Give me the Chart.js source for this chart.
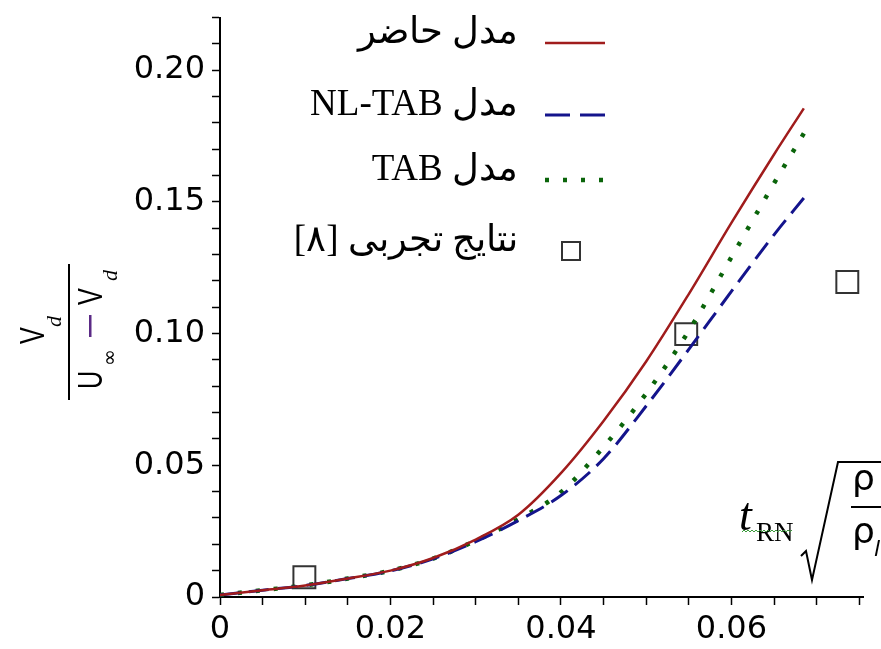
<!DOCTYPE html>
<html>
<head>
<meta charset="utf-8">
<script src="https://cdn.jsdelivr.net/npm/chart.js@4.4.1/dist/chart.umd.min.js"></script>
<style>
  html, body { margin: 0; padding: 0; background: #fff; }
  #wrap { width: 881px; height: 649px; }
</style>
</head>
<body>
<div id="wrap"><canvas id="chart" width="881" height="649"></canvas></div>
<script>
// values
const tValues = [0, 0.005, 0.01, 0.015, 0.02, 0.025, 0.03, 0.035, 0.04, 0.045, 0.05, 0.055, 0.06, 0.065, 0.0685];
const presentModel = [0.0008, 0.0026, 0.0044, 0.0070, 0.0100, 0.0148, 0.0218, 0.0312, 0.0470, 0.0668, 0.0894, 0.1150, 0.1420, 0.1680, 0.1855];
const nlTabModel = [0.0008, 0.0026, 0.0044, 0.0070, 0.0099, 0.0145, 0.0210, 0.0290, 0.0385, 0.0525, 0.0725, 0.0940, 0.1160, 0.1375, 0.1515];
const tabModel = [0.0008, 0.0026, 0.0044, 0.0070, 0.0100, 0.0146, 0.0214, 0.0295, 0.0398, 0.0570, 0.0772, 0.1010, 0.1290, 0.1570, 0.1760];
const expT = [0.0099, 0.0547, 0.0736];
const expV = [0.0075, 0.0998, 0.1196];
const seriesLabels = ['مدل حاضر', 'مدل NL-TAB', 'مدل TAB', 'نتایج تجربی [۸]'];
const xMajor = [0, 0.02, 0.04, 0.06];
const yMajor = [0, 0.05, 0.10, 0.15, 0.20];

const TICK_FONT = { family: '"DejaVu Sans", Verdana, sans-serif', size: 32 };

function pts(xs, ys) { return xs.map((x, i) => ({ x: x, y: ys[i] })); }
function isMajor(v, list) { return list.some(m => Math.abs(m - v) < 1e-7); }
function fmt(v) { return Math.abs(v) < 1e-9 ? '0' : v.toFixed(2); }

// legend in the upper middle, RTL text with the sample on the right
const legendBox = {
  id: 'legendBox',
  afterDraw(chart) {
    const ctx = chart.ctx;
    const rows = [43, 115, 180, 251];
    ctx.save();
    ctx.font = '37px "Liberation Serif", "DejaVu Serif", serif';
    ctx.direction = 'rtl';
    ctx.textAlign = 'right';
    ctx.textBaseline = 'alphabetic';
    ctx.fillStyle = '#000';
    chart.data.datasets.forEach((ds, i) => {
      const y = rows[i];
      ctx.fillText(ds.label, 518, y);
      ctx.strokeStyle = ds.borderColor;
      ctx.lineWidth = ds.borderWidth;
      if (ds.showLine === false) {
        ctx.setLineDash([]);
        ctx.lineWidth = 2;
        ctx.strokeRect(562, y - 9, 18, 18);
        return;
      }
      ctx.setLineDash(ds.legendDash || []);
      ctx.beginPath();
      ctx.moveTo(545, y);
      ctx.lineTo(605, y);
      ctx.stroke();
    });
    ctx.restore();
  }
};

// axis titles: V_d/(U_inf - V_d) rotated on the left, t_RN sqrt(rho/rho_l) at the lower right
const axisTitles = {
  id: 'axisTitles',
  afterDraw(chart) {
    const ctx = chart.ctx;
    ctx.save();
    ctx.fillStyle = '#000';
    ctx.strokeStyle = '#000';

    // y title
    ctx.translate(69, 332);
    ctx.rotate(-Math.PI / 2);
    ctx.lineWidth = 2;
    ctx.beginPath(); ctx.moveTo(-68, 0); ctx.lineTo(68, 0); ctx.stroke();
    const big = '35px "Liberation Sans", Arial, sans-serif';
    const small = 'italic 22px "Liberation Serif", serif';
    ctx.textBaseline = 'alphabetic';
    ctx.textAlign = 'left';
    function piece(txt, font, x, y, sx) {
      ctx.save();
      ctx.font = font;
      ctx.translate(x, y);
      ctx.scale(sx, 1);
      ctx.fillText(txt, 0, 0);
      ctx.restore();
    }
    piece('V', big, -12, -25, 0.72);
    piece('d', small, 5, -8, 1);
    piece('U', big, -57, 33, 0.72);
    piece('∞', '20px "DejaVu Sans", sans-serif', -34, 47, 1);
    ctx.fillStyle = '#5b2a86';
    ctx.fillRect(-5, 20, 22, 2.5);
    ctx.fillStyle = '#000';
    piece('V', big, 27, 33, 0.72);
    piece('d', small, 51, 48, 1);
    ctx.restore();

    // x title
    ctx.save();
    ctx.fillStyle = '#000';
    ctx.strokeStyle = '#000';
    ctx.textBaseline = 'alphabetic';
    ctx.font = 'italic 46px "Liberation Serif", "DejaVu Serif", serif';
    ctx.fillText('t', 739, 530);
    ctx.font = '27px "Liberation Serif", "DejaVu Serif", serif';
    ctx.fillText('RN', 756, 541);
    // spell-check squiggle under t_RN
    ctx.strokeStyle = '#3b9b3b';
    ctx.lineWidth = 1;
    ctx.beginPath();
    for (let x = 742; x <= 793; x += 2) {
      const yy = 531 + ((x / 2) % 2 === 0 ? -1 : 1);
      if (x === 742) ctx.moveTo(x, yy); else ctx.lineTo(x, yy);
    }
    ctx.stroke();
    // radical
    ctx.strokeStyle = '#000';
    ctx.lineWidth = 2;
    ctx.beginPath();
    ctx.moveTo(801, 556);
    ctx.lineTo(806, 551);
    ctx.lineTo(812, 580);
    ctx.lineTo(838, 462);
    ctx.lineTo(881, 462);
    ctx.stroke();
    ctx.font = '36px "DejaVu Sans", sans-serif';
    ctx.fillText('ρ', 852, 490);
    ctx.fillRect(851, 506, 30, 2);
    ctx.fillText('ρ', 852, 543);
    ctx.font = 'italic 22px "DejaVu Sans", sans-serif';
    ctx.fillText('l', 874, 556);
    ctx.restore();
  }
};

new Chart(document.getElementById('chart'), {
  type: 'line',
  data: {
    datasets: [
      {
        label: seriesLabels[0],
        data: pts(tValues, presentModel),
        borderColor: '#a01c1c',
        borderWidth: 2.5,
        pointRadius: 0,
        cubicInterpolationMode: 'monotone',
        fill: false
      },
      {
        label: seriesLabels[1],
        data: pts(tValues, nlTabModel),
        borderColor: '#14148c',
        borderWidth: 3,
        borderDash: [20, 9],
        legendDash: [25, 10],
        pointRadius: 0,
        cubicInterpolationMode: 'monotone',
        fill: false
      },
      {
        label: seriesLabels[2],
        data: pts(tValues, tabModel),
        borderColor: '#0a640a',
        borderWidth: 4.5,
        borderDash: [4, 14],
        legendDash: [4, 14],
        pointRadius: 0,
        cubicInterpolationMode: 'monotone',
        fill: false
      },
      {
        label: seriesLabels[3],
        data: pts(expT, expV),
        showLine: false,
        borderColor: '#333',
        borderWidth: 2,
        backgroundColor: 'rgba(0,0,0,0)',
        pointStyle: 'rect',
        pointRadius: 15.5,
        pointBorderWidth: 2
      }
    ]
  },
  options: {
    responsive: false,
    animation: false,
    layout: { padding: { top: 15, right: 0, bottom: 0, left: 0 } },
    plugins: { legend: { display: false }, tooltip: { enabled: false } },
    scales: {
      x: {
        type: 'linear',
        min: 0,
        max: 0.0755,
        border: { color: '#000', width: 2 },
        grid: { drawOnChartArea: false, drawTicks: true, tickLength: 8, tickColor: '#000', tickWidth: 1.5 },
        ticks: {
          stepSize: 0.005,
          includeBounds: false,
          autoSkip: false,
          maxRotation: 0,
          padding: 5,
          color: '#000',
          font: TICK_FONT,
          callback: v => isMajor(v, xMajor) ? fmt(v) : ''
        },
        afterFit(scale) { scale.height = 52; scale.paddingLeft = 0; scale.paddingRight = 0; }
      },
      y: {
        min: 0,
        max: 0.22,
        border: { color: '#000', width: 2 },
        grid: { drawOnChartArea: false, drawTicks: true, tickLength: 8, tickColor: '#000', tickWidth: 1.5 },
        ticks: {
          stepSize: 0.01,
          autoSkip: false,
          padding: 7,
          color: '#000',
          font: TICK_FONT,
          callback: v => isMajor(v, yMajor) ? fmt(v) : ''
        },
        afterFit(scale) { scale.width = 220; scale.paddingTop = 0; scale.paddingBottom = 0; }
      }
    }
  },
  plugins: [legendBox, axisTitles]
});
</script>
</body>
</html>
